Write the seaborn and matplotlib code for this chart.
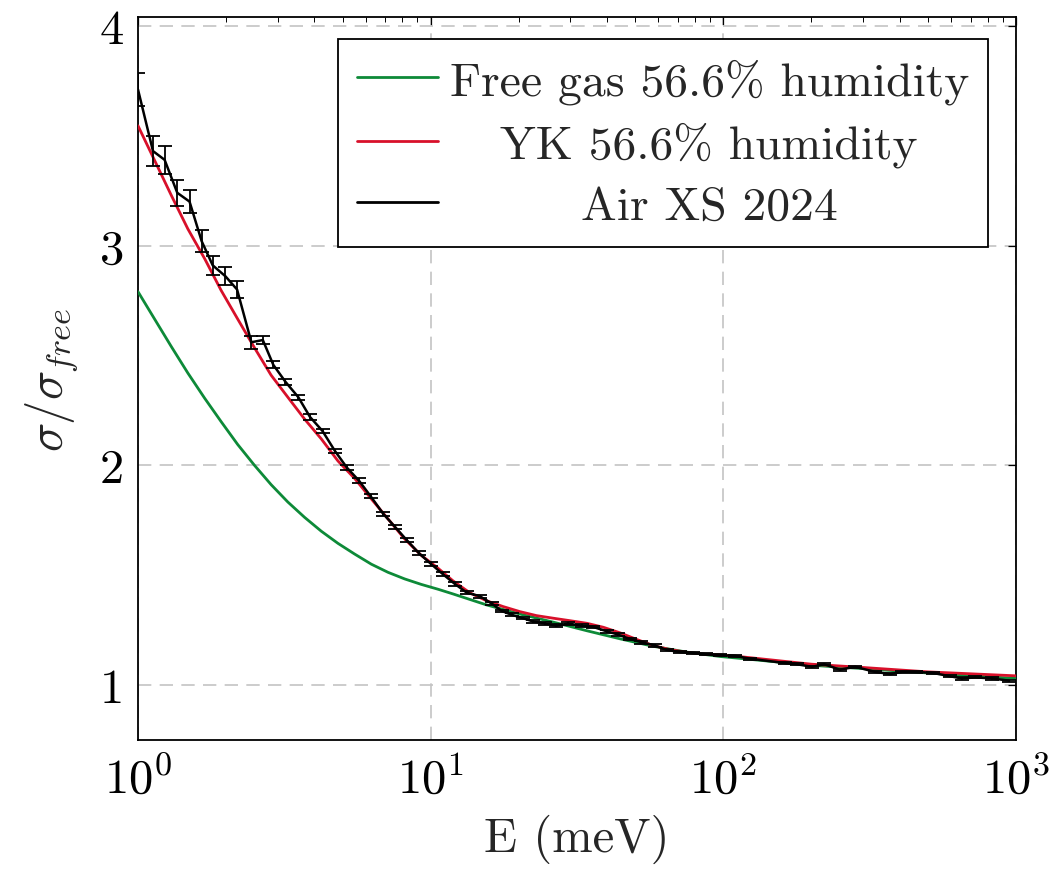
import numpy as np
import pandas as pd
import matplotlib
matplotlib.use("Agg")
import matplotlib.pyplot as plt
import seaborn as sns
from matplotlib.ticker import LogLocator, NullFormatter, FixedLocator

# ---------------- data ----------------
free_E = [1.0, 1.14, 1.30, 1.48, 1.69, 1.925, 2.19, 2.50, 2.85, 3.25, 3.71, 4.23,
          4.82, 5.50, 6.27, 7.15, 8.15, 9.29, 10.6, 11.9, 15.5, 20.2, 26.3, 34.2,
          44.5, 57.8, 75, 97.5, 111, 200, 300, 500, 1000]
free_y = [2.79, 2.665, 2.54, 2.42, 2.305, 2.198, 2.095, 2.0, 1.912, 1.833, 1.763, 1.70,
          1.645, 1.596, 1.55, 1.513, 1.483, 1.458, 1.436, 1.415, 1.365, 1.323, 1.286, 1.247,
          1.21, 1.176, 1.15, 1.13, 1.123, 1.09, 1.075, 1.055, 1.03]

yk_E = [1.0, 1.14, 1.30, 1.48, 1.69, 1.925, 2.19, 2.50, 2.85, 3.25, 3.71, 4.23,
        4.82, 5.50, 6.27, 7.15, 8.15, 9.29, 10.5, 11.9, 13.6, 15.5, 17.7, 20.2,
        23.0, 26.3, 29.9, 34.2, 38.9, 44.5, 50.7, 57.8, 65.8, 75, 85.4, 97.5, 111,
        200, 300, 500, 1000]
yk_y = [3.545, 3.387, 3.228, 3.076, 2.94, 2.795, 2.666, 2.535, 2.41, 2.31, 2.21, 2.12,
        2.02, 1.94, 1.847, 1.756, 1.665, 1.59, 1.536, 1.475, 1.42, 1.384, 1.357, 1.334,
        1.316, 1.304, 1.293, 1.281, 1.263, 1.237, 1.207, 1.179, 1.161, 1.149, 1.141, 1.137, 1.131,
        1.095, 1.08, 1.06, 1.042]

air_E = [1.0, 1.125, 1.233, 1.362, 1.50, 1.65, 1.80, 1.99, 2.18, 2.44, 2.67,
         2.90, 3.19, 3.53, 3.87, 4.27, 4.71, 5.17, 5.69, 6.23, 6.88, 7.55, 8.28,
         9.12, 10.05, 11.0, 12.1, 13.3, 14.7, 16.2, 17.5, 18.9, 20.6, 22.3, 24.6,
         26.9, 29.5, 32.8, 35.8, 39.9, 43.6, 47.9, 52.5, 58.4, 64.0, 71.3, 78.7,
         87.4, 97.3, 110, 123, 163, 178, 201, 221, 250, 282, 330, 372, 409, 455,
         521, 595, 654, 726, 829, 947]
air_y = [3.71, 3.43, 3.39, 3.24, 3.20, 3.02, 2.91, 2.86, 2.80, 2.56, 2.57,
         2.457, 2.38, 2.31, 2.22, 2.156, 2.065, 1.99, 1.93, 1.86, 1.78, 1.72, 1.66,
         1.60, 1.55, 1.505, 1.46, 1.42, 1.405, 1.37, 1.337, 1.32, 1.305, 1.29, 1.28,
         1.27, 1.28, 1.27, 1.265, 1.245, 1.23, 1.21, 1.195, 1.18, 1.16, 1.15, 1.146,
         1.14, 1.136, 1.133, 1.12, 1.10, 1.095, 1.083, 1.095, 1.07, 1.083, 1.06, 1.05,
         1.06, 1.06, 1.055, 1.04, 1.03, 1.035, 1.03, 1.02]
air_err = [0.077, 0.068, 0.064, 0.059, 0.052, 0.050, 0.043, 0.041, 0.039, 0.030, 0.018,
           0.016, 0.014, 0.012, 0.014, 0.011, 0.011, 0.010, 0.010, 0.010, 0.009, 0.009, 0.009,
           0.009, 0.009, 0.008, 0.007, 0.007, 0.007, 0.007, 0.006, 0.006, 0.006, 0.006, 0.006,
           0.006, 0.006, 0.006, 0.006, 0.006, 0.006, 0.006, 0.006, 0.005, 0.005, 0.005, 0.005,
           0.005, 0.005, 0.005, 0.005, 0.005, 0.005, 0.005, 0.005, 0.005, 0.005, 0.005, 0.005,
           0.005, 0.005, 0.005, 0.005, 0.005, 0.005, 0.005, 0.005]

labels = ["Free gas 56.6% humidity", "YK 56.6% humidity", "Air XS 2024"]
xtick_vals = [1, 10, 100, 1000]
xtick_labels = [r"$10^{0}$", r"$10^{1}$", r"$10^{2}$", r"$10^{3}$"]
ytick_vals = [1, 2, 3, 4]

# ---------------- style ----------------
sns.set_style("white")
plt.rcParams["font.family"] = ["cmr10", "DejaVu Serif"]
plt.rcParams["mathtext.fontset"] = "cm"
plt.rcParams["axes.formatter.use_mathtext"] = True
plt.rcParams["axes.unicode_minus"] = False

GREEN = "#0d8a38"
RED = "#d8102a"
FS = 35
LFS = 34.3

W, H = 1053, 879
fig = plt.figure(figsize=(W / 100, H / 100), dpi=100)
ax = fig.add_axes([138 / W, 1 - 741 / H, 878 / W, 723 / H])

df_free = pd.DataFrame({"E": free_E, "y": free_y})
df_yk = pd.DataFrame({"E": yk_E, "y": yk_y})
df_air = pd.DataFrame({"E": air_E, "y": air_y})

sns.lineplot(data=df_free, x="E", y="y", ax=ax, color=GREEN, lw=2.0,
             label=labels[0], sort=False, zorder=3)
sns.lineplot(data=df_yk, x="E", y="y", ax=ax, color=RED, lw=2.0,
             label=labels[1], sort=False, zorder=4)
ax.errorbar(air_E, air_y, yerr=air_err, fmt="none", ecolor="black",
            elinewidth=1.3, capsize=5, capthick=1.3, zorder=5)
sns.lineplot(data=df_air, x="E", y="y", ax=ax, color="black", lw=1.8,
             label=labels[2], sort=False, zorder=6)

ax.set_xscale("log")
ax.set_xlim(1, 1000)
ax.set_ylim(0.75, 4.04)

ax.xaxis.set_major_locator(FixedLocator(xtick_vals))
ax.set_xticklabels(xtick_labels)
ax.xaxis.set_minor_locator(LogLocator(base=10, subs=np.arange(2, 10)))
ax.xaxis.set_minor_formatter(NullFormatter())
ax.set_yticks(ytick_vals)
ax.set_yticklabels([str(v) for v in ytick_vals])

ax.tick_params(which="both", direction="in", top=True, right=True,
               colors="black", labelsize=FS)
ax.tick_params(which="major", length=6, width=0.9)
ax.tick_params(which="minor", length=3.5, width=0.7)
ax.tick_params(axis="x", which="major", pad=12)
ax.tick_params(axis="y", which="major", pad=10)

ax.grid(True, which="major", color="#c4c4c4", lw=1.2, linestyle=(0, (8, 5)))
ax.set_axisbelow(True)
for s in ax.spines.values():
    s.set_color("black")
    s.set_linewidth(1.3)

ax.set_xlabel("E (meV)", fontsize=FS, labelpad=8)
ax.set_ylabel(r"$\sigma/\sigma_{free}$", fontsize=FS, labelpad=14)

leg = ax.legend(loc="upper right", bbox_to_anchor=(0.968, 0.9696),
                borderaxespad=0, fontsize=LFS, frameon=True, fancybox=False,
                edgecolor="black", framealpha=1, handlelength=1.7,
                handletextpad=0.25, labelspacing=0.38, borderpad=0.4)
leg.get_frame().set_linewidth(1.3)
for h in leg.get_lines():
    h.set_linewidth(2.0)

# center the label texts within the legend column
fig.canvas.draw()
widths = [t.get_window_extent().width for t in leg.get_texts()]
maxw = max(widths)
column = leg._legend_handle_box.get_children()[0]
for item, w in zip(column.get_children(), widths):
    item.sep = item.sep + (maxw - w) / 2 * 72 / fig.dpi

fig.savefig("out.png", dpi=100)
